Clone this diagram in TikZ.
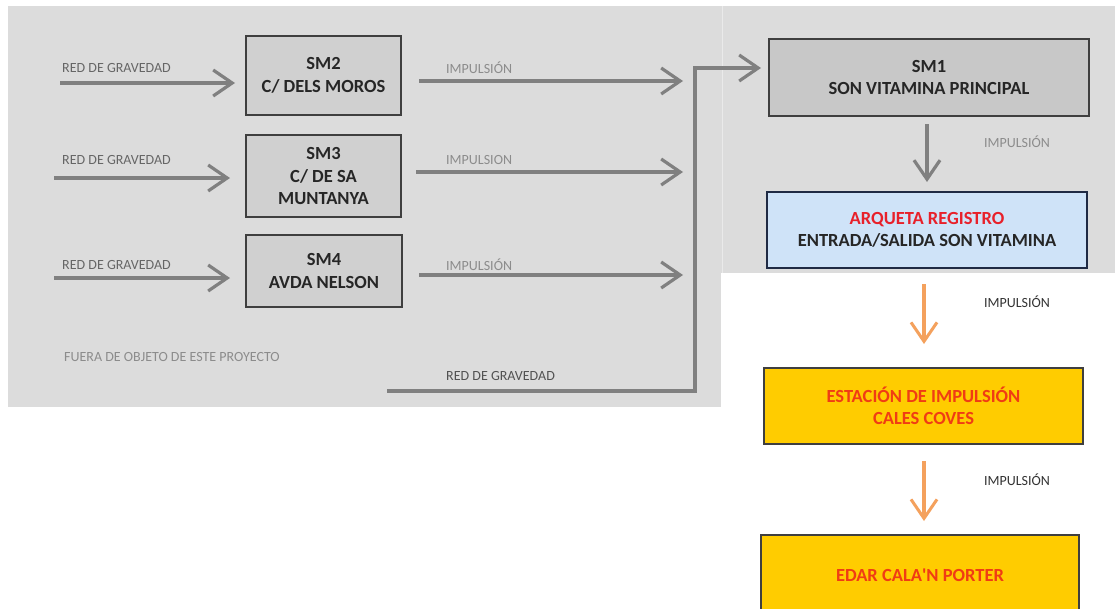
\documentclass[tikz,border=0pt]{standalone}
\usepackage{fontspec}
\setmainfont{Carlito}
\newfontfamily\aposfont{Carlito}
\usetikzlibrary{arrows.meta}
\definecolor{panel}{HTML}{DCDCDC}
\definecolor{smfill}{HTML}{D0D0D0}
\definecolor{smonefill}{HTML}{C8C8C8}
\definecolor{boxline}{HTML}{3F3F3F}
\definecolor{arrgrey}{HTML}{808080}
\definecolor{arrorange}{HTML}{F4A15D}
\definecolor{bluefill}{HTML}{CFE3F8}
\definecolor{blueline}{HTML}{1F2A44}
\definecolor{goldfill}{HTML}{FFCC00}
\definecolor{redtext}{HTML}{E8202A}
\definecolor{orangered}{HTML}{F03C14}
\definecolor{lbldark}{HTML}{666666}
\definecolor{lbllight}{HTML}{8C8C8C}
\definecolor{lblblack}{HTML}{333333}
\tikzset{
  smbox/.style={draw=boxline, line width=2pt, fill=smfill, align=center,
    font=\fontsize{18.5}{22.5}\selectfont\bfseries, text=black!85, inner sep=0pt},
  flowbox/.style={draw=boxline, line width=2pt, align=center,
    font=\fontsize{18.5}{22.5}\selectfont\bfseries, inner sep=0pt},
  greyarrow/.style={draw=arrgrey, line width=3.8pt,
    -{Straight Barb[length=19pt,width=26pt,line width=3.2pt]}},
  orangearrow/.style={draw=arrorange, line width=3.4pt,
    -{Straight Barb[length=19pt,width=26pt,line width=3pt]}},
  lbl/.style={font=\fontsize{14}{16}\selectfont, inner sep=0pt, anchor=west},
}
\begin{document}
\begin{tikzpicture}[x=1pt,y=-1pt]
\useasboundingbox (0,0) rectangle (1115,608);
\fill[white] (0,0) rectangle (1115,608);
% panels
\fill[panel] (8,6) rectangle (721,407);
\fill[panel] (721,6) rectangle (1115,273);
\draw[white!40!panel, line width=1pt] (722,6) -- (722,273);

% SM boxes
\node[smbox, minimum width=155pt, minimum height=79pt] (sm2) at (323.5,75.5) {SM2\\C/ DELS MOROS};
\node[smbox, minimum width=155pt, minimum height=82pt] (sm3) at (323.5,176) {SM3\\C/ DE SA\\MUNTANYA};
\node[smbox, minimum width=156pt, minimum height=72pt] (sm4) at (324,271) {SM4\\AVDA NELSON};
\node[smbox, fill=smonefill, minimum width=320pt, minimum height=77pt] (sm1) at (929,77.5) {SM1\\SON VITAMINA PRINCIPAL};

\node[flowbox, draw=blueline, fill=bluefill, minimum width=320pt, minimum height=76pt] (arq) at (927,230)
  {\textcolor{redtext}{ARQUETA REGISTRO}\\\textcolor{black!85}{ENTRADA/SALIDA SON VITAMINA}};
\node[flowbox, fill=goldfill, text=orangered, minimum width=319pt, minimum height=76pt] (est) at (923.5,406)
  {ESTACIÓN DE IMPULSIÓN\\CALES COVES};
\node[flowbox, fill=goldfill, text=orangered, minimum width=318pt, minimum height=80pt] (edar) at (920,575)
  {EDAR CALA{\aposfont\bfseries'}N PORTER};

% labels
\node[lbl, text=lbldark] (lg2) at (62,68) {RED DE GRAVEDAD};
\node[lbl, text=lbldark] (lg3) at (62,160) {RED DE GRAVEDAD};
\node[lbl, text=lbldark] (lg4) at (62,265) {RED DE GRAVEDAD};
\node[lbl, text=lbllight] (li2) at (446,68) {IMPULSIÓN};
\node[lbl, text=lbllight] (li3) at (446,160) {IMPULSION};
\node[lbl, text=lbllight] (li4) at (446,265) {IMPULSIÓN};
\node[lbl, text=lbllight] (lfuera) at (64,357) {FUERA DE OBJETO DE ESTE PROYECTO};
\node[lbl, text=lbldark!80!black] (lgb) at (446,376) {RED DE GRAVEDAD};
\node[lbl, anchor=center, text=lbllight] (li1) at (1017,142) {IMPULSIÓN};
\node[lbl, anchor=center, text=lblblack] (lia) at (1017,302) {IMPULSIÓN};
\node[lbl, anchor=center, text=lblblack] (lie) at (1017,480) {IMPULSIÓN};

% coordinates
\coordinate (g2) at (60,83);
\coordinate (g3) at (54,178);
\coordinate (g4) at (54,278);
\coordinate (t2) at (683,81);
\coordinate (t3) at (683,172);
\coordinate (t4) at (683,275);
\coordinate (b0) at (387,391);
\coordinate (bc) at (695,391);
\coordinate (bu) at (695,68);

% gravity inputs
\draw[greyarrow, shorten >=10pt] (g2) -- (sm2.west |- g2);
\draw[greyarrow, shorten >=15pt] (g3) -- (sm3.west |- g3);
\draw[greyarrow, shorten >=15pt] (g4) -- (sm4.west |- g4);
% impulsion outputs
\draw[greyarrow, shorten <=17pt] (sm2.east |- t2) -- (t2);
\draw[greyarrow, shorten <=14pt] (sm3.east |- t3) -- (t3);
\draw[greyarrow, shorten <=16pt] (sm4.east |- t4) -- (t4);
% bottom gravity line to SM1
\draw[greyarrow, line join=miter, shorten >=7pt] (b0) -- (bc) -- (bu) -- (sm1.west |- bu);
% vertical flow
\draw[greyarrow, shorten <=7pt, shorten >=9pt] (sm1.south -| 927,0) -- (arq.north -| 927,0);
\draw[orangearrow, shorten <=15pt, shorten >=23pt] (arq.south -| 924,0) -- (est.north -| 924,0);
\draw[orangearrow, shorten <=16pt, shorten >=13pt] (est.south -| 924,0) -- (edar.north -| 924,0);
\end{tikzpicture}
\end{document}
